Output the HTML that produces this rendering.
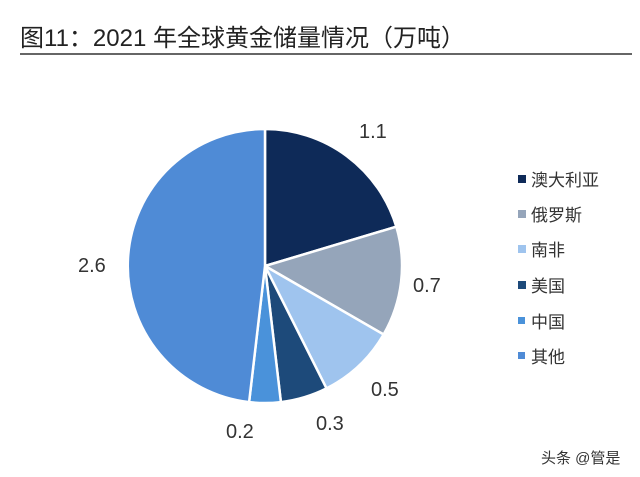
<!DOCTYPE html>
<html><head><meta charset="utf-8"><style>
body{margin:0;width:640px;height:477px;background:#fff;overflow:hidden;font-family:"Liberation Sans","Noto Sans CJK SC",sans-serif;}
</style></head><body>
<svg width="640" height="477" xmlns="http://www.w3.org/2000/svg" style="position:absolute;left:0;top:0">
<text x="20" y="46" font-size="24" fill="#222" font-family="Liberation Sans, Noto Sans CJK SC, sans-serif">图11：2021 年全球黄金储量情况（万吨）</text>
<line x1="20" y1="54" x2="632" y2="54" stroke="#333" stroke-width="1.5"/>
<g stroke="#fff" stroke-width="2.5">
<path d="M265,266 L265,129 A137,137 0 0 1 396.3,226.7 Z" fill="#0e2a58"/>
<path d="M265,266 L396.3,226.7 A137,137 0 0 1 383.6,334.5 Z" fill="#95a5ba"/>
<path d="M265,266 L383.6,334.5 A137,137 0 0 1 326.5,388.4 Z" fill="#9fc4ee"/>
<path d="M265,266 L326.5,388.4 A137,137 0 0 1 280.9,402.1 Z" fill="#1d4a7a"/>
<path d="M265,266 L280.9,402.1 A137,137 0 0 1 249.1,402.1 Z" fill="#4a92da"/>
<path d="M265,266 L249.1,402.1 A137,137 0 0 1 265,129 Z" fill="#4f8bd6"/>
</g>
<g font-size="20" fill="#333" font-family="Liberation Sans, sans-serif">
<text x="359" y="138">1.1</text>
<text x="413" y="292">0.7</text>
<text x="371" y="396">0.5</text>
<text x="316" y="430">0.3</text>
<text x="226" y="438">0.2</text>
<text x="78" y="272">2.6</text>
</g>
<g font-size="17" fill="#333">
<rect x="518" y="175" width="8" height="8" fill="#0e2a58"/><text x="531" y="186">澳大利亚</text>
<rect x="518" y="210" width="8" height="8" fill="#95a5ba"/><text x="531" y="221">俄罗斯</text>
<rect x="518" y="245" width="8" height="8" fill="#9fc4ee"/><text x="531" y="256">南非</text>
<rect x="518" y="281" width="8" height="8" fill="#1d4a7a"/><text x="531" y="292">美国</text>
<rect x="518" y="317" width="7" height="7" fill="#4a92da"/><text x="531" y="328">中国</text>
<rect x="518" y="352" width="7" height="7" fill="#4f8bd6"/><text x="531" y="363">其他</text>
</g>
<text x="541" y="463" font-size="15" fill="#333">头条 @管是</text>
</svg>
</body></html>
